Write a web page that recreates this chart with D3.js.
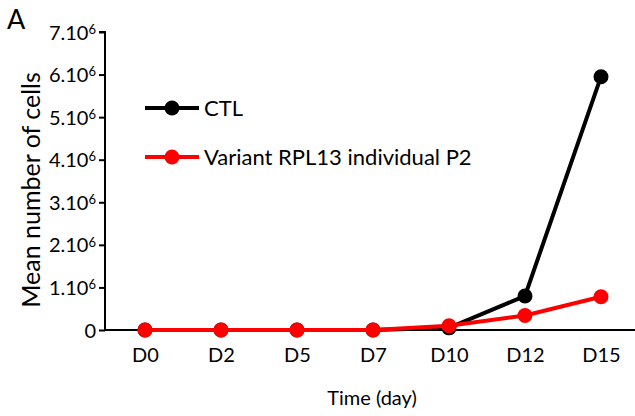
<!DOCTYPE html>
<html><head><meta charset="utf-8">
<script src="https://cdn.jsdelivr.net/npm/d3@7"></script>
<style>body{margin:0;background:#fff}svg{display:block}text{font-family:Lato,"Open Sans",sans-serif;fill:#000}</style>
</head><body>
<svg id="c" width="635" height="416"></svg>
<script>
const categories = ["D0","D2","D5","D7","D10","D12","D15"];
const ctlValues = [0, 0, 0, 0, 50000, 800000, 5950000];
const p2Values = [0, 0, 0, 0, 100000, 340000, 780000];
const yTicks = [0,1e6,2e6,3e6,4e6,5e6,6e6,7e6];
const tickMantissa = ["0","1","2","3","4","5","6","7"];
const seriesNames = ["CTL","Variant RPL13 individual P2"];
const seriesColors = ["#000000","#ff0000"];

const svg = d3.select("#c");
const x = d3.scalePoint().domain(categories).range([145,601]);
const y = d3.scaleLinear().domain([0,7e6]).range([330,32]);

// y axis
const yAxis = d3.axisLeft(y).tickValues(yTicks).tickSize(6).tickFormat(()=>"");
const gy = svg.append("g").attr("transform","translate(105,0)").call(yAxis);
gy.select(".domain").attr("stroke","#000").attr("stroke-width",2).attr("d","M-6,32H0V330");
gy.selectAll(".tick line").attr("stroke","#000").attr("stroke-width",2);
gy.selectAll(".tick").each(function(d,i){
  const t = d3.select(this).append("text").attr("x",-9).attr("dy","0.35em")
    .attr("text-anchor","end").style("font-size","20px");
  if(d===0){ t.text("0"); }
  else {
    t.append("tspan").text(tickMantissa[i]+".10");
    t.append("tspan").attr("dy","-0.45em").style("font-size","13px").text("6");
  }
});

// x axis
const xAxis = d3.axisBottom(x).tickSize(0).tickPadding(18);
const gx = svg.append("g").attr("transform","translate(0,330)").call(xAxis);
gx.select(".domain").attr("stroke","#000").attr("stroke-width",2).attr("d","M105,0H635");
gx.selectAll(".tick text").style("font-size","20px").attr("font-family","Lato,'Open Sans',sans-serif");

// labels
svg.append("text").attr("x",7).attr("y",29).style("font-size","27px").text("A");
svg.append("text").attr("transform","translate(40,190) rotate(-90)").attr("text-anchor","middle")
  .style("font-size","25px").text("Mean number of cells");
svg.append("text").attr("x",372).attr("y",405).attr("text-anchor","middle").style("font-size","20px").text("Time (day)");

// series
const line = d3.line().x((d,i)=>x(categories[i])).y(d=>y(d));
[ctlValues,p2Values].forEach((vals,s)=>{
  svg.append("path").datum(vals).attr("d",line).attr("fill","none")
    .attr("stroke",seriesColors[s]).attr("stroke-width",4);
  svg.selectAll(null).data(vals).enter().append("circle")
    .attr("cx",(d,i)=>x(categories[i])).attr("cy",d=>y(d)).attr("r",7.5)
    .attr("fill",seriesColors[s]);
});

// legend
const legY = [108,157];
seriesNames.forEach((n,s)=>{
  svg.append("line").attr("x1",145).attr("x2",199).attr("y1",legY[s]).attr("y2",legY[s])
    .attr("stroke",seriesColors[s]).attr("stroke-width",4);
  svg.append("circle").attr("cx",172).attr("cy",legY[s]).attr("r",7.5).attr("fill",seriesColors[s]);
  svg.append("text").attr("x",204).attr("y",legY[s]).attr("dy","0.35em").style("font-size","22px").text(n);
});
</script>
</body></html>
